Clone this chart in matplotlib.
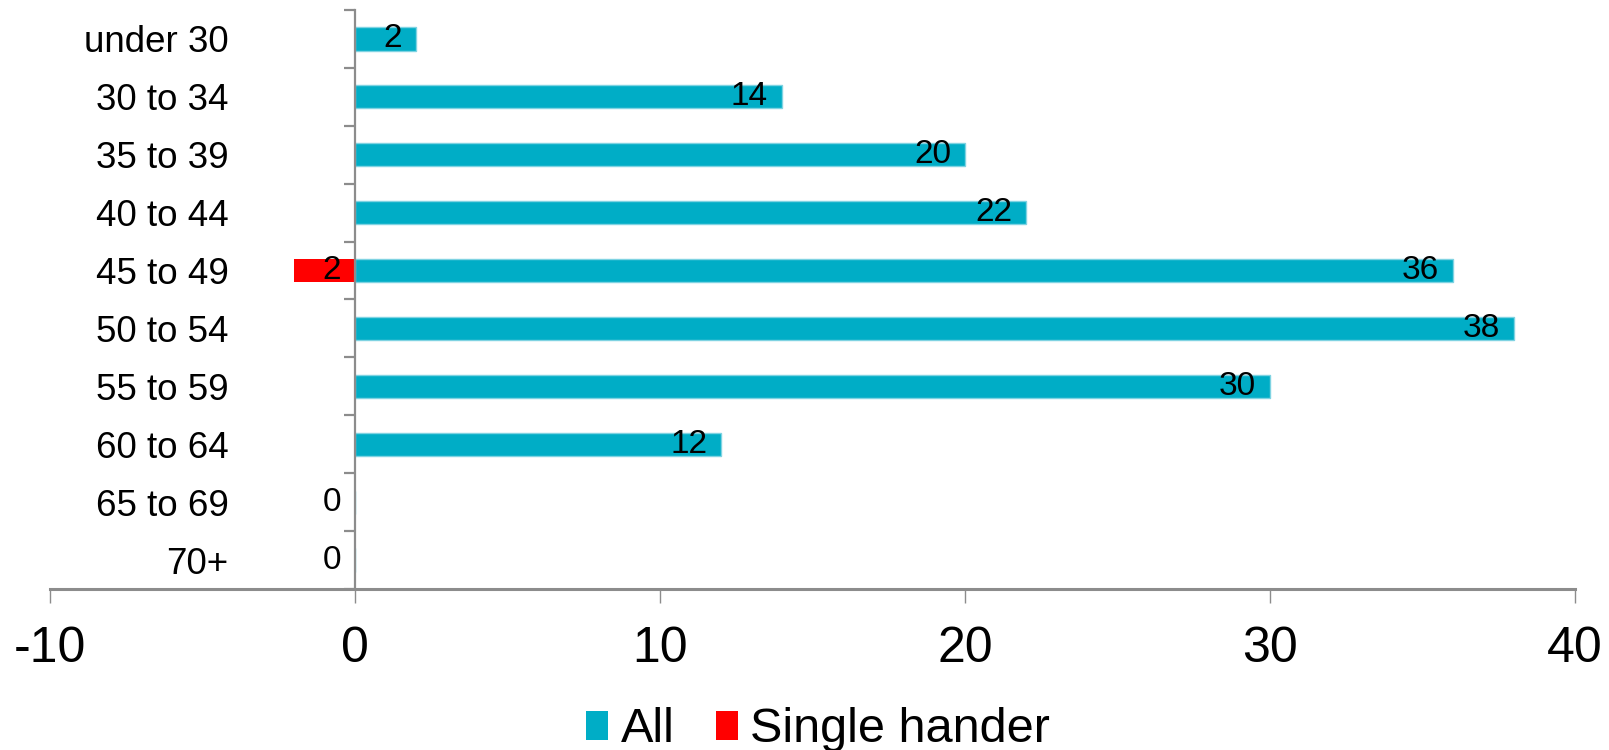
import matplotlib
matplotlib.use("Agg")
import matplotlib.pyplot as plt
import numpy as np
from matplotlib.patches import Patch

plt.rcParams['font.family'] = ['Liberation Sans', 'DejaVu Sans']

categories = ["under 30", "30 to 34", "35 to 39", "40 to 44", "45 to 49",
              "50 to 54", "55 to 59", "60 to 64", "65 to 69", "70+"]
all_vals = [2, 14, 20, 22, 36, 38, 30, 12, 0, 0]
single_vals = [np.nan, np.nan, np.nan, np.nan, -2, np.nan, np.nan, np.nan, np.nan, np.nan]
xticks = [-10, 0, 10, 20, 30, 40]

C_ALL = "#00ADC6"
C_SINGLE = "#FF0000"
AX_COL = "#8C8C8C"

fig = plt.figure(figsize=(16.09, 7.5), dpi=100)
ax = fig.add_axes([50/1609, 1-589/750, (1575-50)/1609, (589-10)/750])

y = np.arange(len(categories))
h = 0.40
ax.barh(y, all_vals, height=h, color=C_ALL, edgecolor="#7FD3E2", linewidth=1.0, zorder=2)
ax.barh(y, single_vals, height=h, color=C_SINGLE, linewidth=0, zorder=2)

ax.set_xlim(-10, 40)
ax.set_ylim(len(categories)-0.5, -0.5)

# data labels
for yi, v in zip(y, all_vals):
    ax.annotate(f"{v:g}", xy=(v, yi), xytext=(-10, 0), textcoords="offset points",
                ha="right", va="center", fontsize=24, color="black", zorder=3)
for yi, v in zip(y, single_vals):
    if not np.isnan(v):
        ax.annotate(f"{abs(v):g}", xy=(0, yi), xytext=(-10, 0), textcoords="offset points",
                    ha="right", va="center", fontsize=24, color="black", zorder=3)

# spines
for s in ["top", "right"]:
    ax.spines[s].set_visible(False)
ax.spines["left"].set_position(("data", 0))
ax.spines["left"].set_color(AX_COL)
ax.spines["left"].set_linewidth(1.6)
ax.spines["bottom"].set_color(AX_COL)
ax.spines["bottom"].set_linewidth(2.2)

# x ticks
ax.set_xticks(xticks)
ax.set_xticklabels([str(t) for t in xticks])
ax.tick_params(axis="x", direction="out", length=10, width=1.0, color=AX_COL,
               labelsize=36, pad=17)

# y ticks: boundaries as tick marks, labels as minor ticks at centers
ax.set_yticks(np.arange(-0.5, len(categories), 1.0))
ax.set_yticklabels([])
ax.tick_params(axis="y", which="major", direction="out", length=8, width=1.6, color=AX_COL)
ax.set_yticks(y, minor=True)
ax.set_yticklabels(categories, minor=True)
ax.tick_params(axis="y", which="minor", length=0, labelsize=26.5, pad=91)

handles = [Patch(facecolor=C_ALL, label="All"), Patch(facecolor=C_SINGLE, label="Single hander")]
fig.legend(handles=handles, loc="center", bbox_to_anchor=(818/1609, 1-730/750),
           ncol=2, frameon=False, fontsize=35, handlelength=0.45, handleheight=0.55,
           handletextpad=0.25, columnspacing=0.85)

fig.savefig("out.png", dpi=100)
